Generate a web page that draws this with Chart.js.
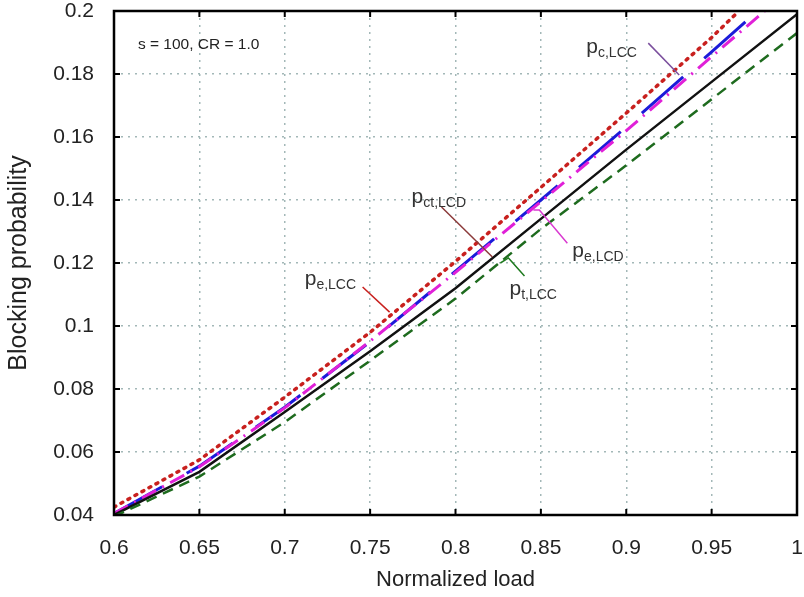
<!DOCTYPE html>
<html lang="en">
<head>
  <meta charset="UTF-8" />
  <title>Blocking probability vs normalized load</title>
  <script src="https://cdn.jsdelivr.net/npm/chart.js"></script>
  <style>
    html, body { margin: 0; padding: 0; background: #fff; }
    #wrap { width: 804px; height: 597px; }
  </style>
</head>
<body>
  <div id="wrap"><canvas id="chart" width="804" height="597"></canvas></div>
  <script>
    // tick values and labels
    const xTicks = [0.6, 0.65, 0.7, 0.75, 0.8, 0.85, 0.9, 0.95, 1];
    const xTickLabels = ['0.6', '0.65', '0.7', '0.75', '0.8', '0.85', '0.9', '0.95', '1'];
    const yTicks = [0.04, 0.06, 0.08, 0.1, 0.12, 0.14, 0.16, 0.18, 0.2];
    const yTickLabels = ['0.04', '0.06', '0.08', '0.1', '0.12', '0.14', '0.16', '0.18', '0.2'];

    // series (load -> blocking probability)
    const loadPeLCC = [0.6, 0.65, 0.7, 0.75, 0.8, 0.85, 0.9, 0.95, 0.966];
    const peLCC     = [0.0425, 0.0575, 0.0774, 0.098, 0.1205, 0.144, 0.1676, 0.1916, 0.2];
    const loadPcLCC = [0.6, 0.65, 0.7, 0.75, 0.8, 0.85, 0.9, 0.95, 0.977];
    const pcLCC     = [0.0405, 0.0555, 0.0742, 0.095, 0.1174, 0.140, 0.1632, 0.187, 0.2];
    const loadPeLCD = [0.6, 0.65, 0.7, 0.75, 0.8, 0.85, 0.9, 0.95, 0.981];
    const peLCD     = [0.0405, 0.0553, 0.074, 0.0952, 0.117, 0.1395, 0.162, 0.1855, 0.2];
    const loadPctLCD = [0.6, 0.65, 0.7, 0.75, 0.8, 0.85, 0.9, 0.95, 1];
    const pctLCD     = [0.040, 0.0537, 0.0727, 0.092, 0.112, 0.134, 0.156, 0.1775, 0.199];
    const loadPtLCC = [0.6, 0.65, 0.7, 0.75, 0.8, 0.85, 0.9, 0.95, 1];
    const ptLCC     = [0.0395, 0.0522, 0.0695, 0.089, 0.1087, 0.1308, 0.151, 0.172, 0.193];

    // curve labels: [main, subscript, x, y (data units), leader color, leader points]
    const curveLabels = [
      ['p', 'c,LCC', 0.8766, 0.1867, '#7b4f9d', [[0.9129, 0.1898], [0.931, 0.1797]]],
      ['p', 'ct,LCD', 0.7743, 0.1390, '#8b3a3a', [[0.7918, 0.1378], [0.8216, 0.1219]]],
      ['p', 'e,LCD', 0.8684, 0.1219, '#d93ad0', [[0.8456, 0.1368], [0.8491, 0.1368], [0.8655, 0.1263]]],
      ['p', 'e,LCC', 0.7117, 0.1130, '#c8201e', [[0.7456, 0.1124], [0.7614, 0.1044]]],
      ['p', 't,LCC', 0.8316, 0.1098, '#1e7a1e', [[0.8263, 0.12], [0.8310, 0.1216], [0.8404, 0.1159]]]
    ];
    const noteText = 's = 100, CR = 1.0';
    const notePos = [0.614, 0.1879];

    const pts = (xs, ys) => xs.map((x, i) => ({ x, y: ys[i] }));
    const font = '"Liberation Sans", Arial, sans-serif';

    const framePlugin = {
      id: 'frame',
      afterDatasetsDraw(chart) {
        const { ctx, chartArea: a, scales } = chart;
        ctx.save();
        // inward tick marks
        ctx.strokeStyle = '#000';
        ctx.lineWidth = 2;
        ctx.beginPath();
        yTicks.forEach(v => {
          const y = scales.y.getPixelForValue(v);
          ctx.moveTo(a.left, y); ctx.lineTo(a.left + 6, y);
          ctx.moveTo(a.right, y); ctx.lineTo(a.right - 6, y);
        });
        xTicks.forEach(v => {
          const x = scales.x.getPixelForValue(v);
          ctx.moveTo(x, a.top); ctx.lineTo(x, a.top + 6);
          ctx.moveTo(x, a.bottom); ctx.lineTo(x, a.bottom - 6);
        });
        ctx.stroke();
        ctx.lineWidth = 2.5;
        ctx.strokeRect(a.left, a.top, a.right - a.left, a.bottom - a.top);

        // annotations
        ctx.fillStyle = '#222';
        ctx.font = '15.5px ' + font;
        ctx.textBaseline = 'alphabetic';
        ctx.fillText(noteText, scales.x.getPixelForValue(notePos[0]), scales.y.getPixelForValue(notePos[1]));

        curveLabels.forEach(([main, sub, lx, ly, col, leader]) => {
          ctx.strokeStyle = col;
          ctx.lineWidth = 1.5;
          ctx.beginPath();
          leader.forEach(([px, py], i) => {
            const X = scales.x.getPixelForValue(px), Y = scales.y.getPixelForValue(py);
            if (i === 0) ctx.moveTo(X, Y); else ctx.lineTo(X, Y);
          });
          ctx.stroke();
          const X = scales.x.getPixelForValue(lx), Y = scales.y.getPixelForValue(ly);
          ctx.fillStyle = '#333';
          ctx.font = '21px ' + font;
          ctx.fillText(main, X, Y);
          const w = ctx.measureText(main).width;
          ctx.font = '14px ' + font;
          ctx.fillText(sub, X + w, Y + 4);
        });
        ctx.restore();
      }
    };

    const gridOpts = { color: '#a3b8b8', lineWidth: 1.5, drawTicks: false };
    const borderOpts = { display: false, dash: [2, 5] };

    new Chart(document.getElementById('chart'), {
      type: 'line',
      data: {
        datasets: [
          { label: 'p_t,LCC', data: pts(loadPtLCC, ptLCC), borderColor: '#1e6b1e', borderWidth: 2.5, borderDash: [11, 7] },
          { label: 'p_ct,LCD', data: pts(loadPctLCD, pctLCD), borderColor: '#111111', borderWidth: 2.5 },
          { label: 'p_e,LCD', data: pts(loadPeLCD, peLCD), borderColor: '#e020d8', borderWidth: 3, borderDash: [16, 7, 2, 7] },
          { label: 'p_c,LCC', data: pts(loadPcLCC, pcLCC), borderColor: '#1b1bd9', borderWidth: 3, borderDash: [55, 28] },
          { label: 'p_e,LCC', data: pts(loadPeLCC, peLCC), borderColor: '#c8201e', borderWidth: 3.5, borderDash: [2, 6], borderCapStyle: 'round' }
        ]
      },
      options: {
        responsive: false,
        animation: false,
        elements: { point: { radius: 0 }, line: { tension: 0, fill: false } },
        layout: { padding: { top: 11, right: 7, left: 0, bottom: 0 } },
        plugins: { legend: { display: false }, tooltip: { enabled: false } },
        scales: {
          x: {
            type: 'linear', min: 0.6, max: 1,
            afterBuildTicks: s => { s.ticks = xTicks.map(v => ({ value: v })); },
            afterFit: s => { s.height = 82; s.paddingLeft = 0; s.paddingRight = 0; },
            grid: gridOpts,
            border: borderOpts,
            ticks: { padding: 21, color: '#222', font: { family: font, size: 21 }, callback: (v, i) => xTickLabels[i] },
            title: { display: true, text: 'Normalized load', color: '#222', font: { family: font, size: 22 }, padding: { top: 0, bottom: 4 } }
          },
          y: {
            type: 'linear', min: 0.04, max: 0.2,
            afterBuildTicks: s => { s.ticks = yTicks.map(v => ({ value: v })); },
            afterFit: s => { s.width = 114; s.paddingTop = 0; s.paddingBottom = 0; },
            grid: gridOpts,
            border: borderOpts,
            ticks: { padding: 20, color: '#222', font: { family: font, size: 21 }, callback: (v, i) => yTickLabels[i] },
            title: { display: true, text: 'Blocking probability', color: '#222', font: { family: font, size: 25 }, padding: { top: 4, bottom: 0 } }
          }
        }
      },
      plugins: [framePlugin]
    });
  </script>
</body>
</html>
